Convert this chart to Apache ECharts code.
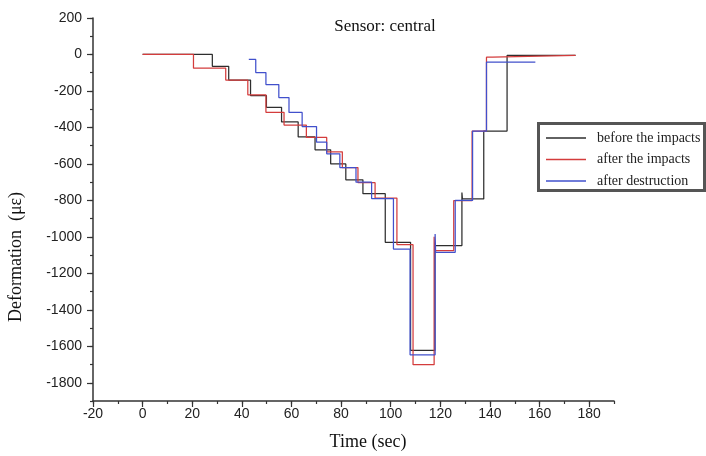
<!DOCTYPE html>
<html><head><meta charset="utf-8">
<script src="https://cdn.jsdelivr.net/npm/echarts@6/dist/echarts.min.js"></script>
<style>html,body{margin:0;padding:0;background:#fff}#c{width:706px;height:456px}</style>
</head><body><div id="c"></div>
<script>
const seriesNames = ['before the impacts', 'after the impacts', 'after destruction'];

const beforeTime  = [0, 28.1, 34.7, 43.5, 49.9, 56, 62.7, 69.5, 75.8, 81.9, 88.8, 97.8, 108, 117.8, 128.7, 128.9, 137.5, 146.9, 174.5];
const beforeValue = [0, -65, -140, -225, -290, -370, -452, -523, -600, -687, -763, -1030, -1623, -1048, -757, -792, -420, -5, -5];

const afterTime  = [0, 20.5, 33.5, 42.4, 49.7, 57, 66, 74.2, 80.5, 86.8, 93.7, 102.5, 109, 117.5, 117.7, 125.4, 132.8, 138.6, 141, 174.5];
const afterValue = [0, -75, -140, -221, -317, -387, -455, -534, -620, -703, -787, -1043, -1701, -999, -1076, -801, -420, -15, -5, -5];

const destrTime  = [42.8, 45.6, 49.7, 54.9, 59, 64.3, 70.1, 74.2, 79.5, 86, 92.3, 101.1, 107.8, 117.9, 118.1, 126, 133, 138.6, 158.3];
const destrValue = [-27, -99, -165, -236, -318, -395, -481, -545, -620, -700, -790, -1067, -1647, -984, -1085, -800, -420, -42, -42];

const xTickLabels = [-20, 0, 20, 40, 60, 80, 100, 120, 140, 160, 180];
const yTickLabels = [200, 0, -200, -400, -600, -800, -1000, -1200, -1400, -1600, -1800];

const colors = ['#2e2e2e', '#d43c3c', '#4150cc'];

function pts(t, v) { return t.map((x, i) => [x, v[i]]); }

const chart = echarts.init(document.getElementById('c'));
const axisColor = '#333';
const labelStyle = { fontFamily: 'Liberation Sans', fontSize: 14, color: '#222' };

function mkSeries(name, t, v, color) {
  return {
    name: name, type: 'line', step: 'end', data: pts(t, v),
    xAxisIndex: 0, yAxisIndex: 0,
    symbol: 'none', showSymbol: false,
    lineStyle: { color: color, width: 1.25 }, itemStyle: { color: color }
  };
}

chart.setOption({
  animation: false,
  backgroundColor: '#fff',
  grid: { left: 93, right: 92, top: 18, bottom: 55 },
  xAxis: [
    {
      type: 'value', min: -20, max: 190, interval: 10,
      axisLine: { onZero: false, lineStyle: { color: axisColor, width: 1.5 } },
      axisTick: { length: 3, lineStyle: { color: axisColor, width: 1.2 } },
      axisLabel: Object.assign({ margin: 6, formatter: v => (xTickLabels.indexOf(v) >= 0) ? String(v) : '' }, labelStyle),
      splitLine: { show: false }
    },
    {
      type: 'value', min: -20, max: 190, position: 'bottom',
      axisLine: { show: false, onZero: false },
      axisTick: { show: true, length: 6, customValues: xTickLabels, lineStyle: { color: axisColor, width: 1.2 } },
      axisLabel: { show: false },
      splitLine: { show: false }
    }
  ],
  yAxis: [
    {
      type: 'value', min: -1900, max: 200, interval: 100,
      axisLine: { show: true, onZero: false, lineStyle: { color: axisColor, width: 1.5 } },
      axisTick: { show: true, length: 3, lineStyle: { color: axisColor, width: 1.2 } },
      axisLabel: Object.assign({ margin: 11, formatter: v => yTickLabels.indexOf(v) >= 0 ? String(v) : '' }, labelStyle),
      splitLine: { show: false }
    },
    {
      type: 'value', min: -1900, max: 200, position: 'left',
      axisLine: { show: false, onZero: false },
      axisTick: { show: true, length: 6, customValues: yTickLabels, lineStyle: { color: axisColor, width: 1.2 } },
      axisLabel: { show: false },
      splitLine: { show: false }
    }
  ],
  legend: {
    data: seriesNames, orient: 'vertical', left: 546, top: 131, padding: 0,
    icon: 'rect', itemWidth: 40, itemHeight: 1.3, itemGap: 7.5,
    textStyle: { fontFamily: 'Liberation Serif', fontSize: 14, lineHeight: 14, color: '#222', padding: [0, 0, 0, 6] }
  },
  graphic: [
    { type: 'rect', shape: { x: 538.5, y: 123.5, width: 166, height: 67 }, style: { fill: 'none', stroke: '#555', lineWidth: 3 }, z: 100 },
    { type: 'text', x: 385, y: 27, style: { text: 'Sensor: central', font: '17px "Liberation Serif"', fill: '#111', textAlign: 'center', textVerticalAlign: 'middle' } },
    { type: 'text', x: 368, y: 442, style: { text: 'Time (sec)', font: '18px "Liberation Serif"', fill: '#111', textAlign: 'center', textVerticalAlign: 'middle' } },
    { type: 'text', x: 16, y: 257, rotation: Math.PI / 2, style: { text: 'Deformation  (με)', font: '18px "Liberation Serif"', fill: '#111', textAlign: 'center', textVerticalAlign: 'middle' } }
  ],
  series: [
    mkSeries(seriesNames[0], beforeTime, beforeValue, colors[0]),
    mkSeries(seriesNames[1], afterTime, afterValue, colors[1]),
    mkSeries(seriesNames[2], destrTime, destrValue, colors[2])
  ]
});
</script>
</body></html>
